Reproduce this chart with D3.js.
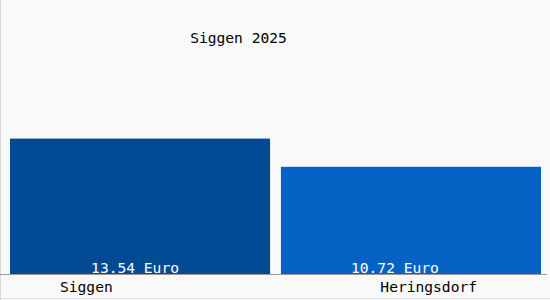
<!DOCTYPE html>
<html>
<head>
<meta charset="utf-8">
<script src="https://cdn.jsdelivr.net/npm/d3@7"></script>
<style>
  body { margin: 0; background: #ffffff; }
  text { font-family: "DejaVu Sans Mono", monospace; font-size: 14.6px; }
</style>
</head>
<body>
<div id="viz"></div>
<script>
var categories = ["Siggen", "Heringsdorf"];
var values = [13.54, 10.72];
var valueLabels = ["13.54 Euro", "10.72 Euro"];
var title = "Siggen 2025";
var barColors = ["#034a94", "#0561c3"];

var width = 550, height = 300;
var baseY = 274;

var svg = d3
  .select("#viz")
  .append("svg")
  .attr("width", width)
  .attr("height", height);

// background with faint frame
svg.append("rect")
  .attr("width", width)
  .attr("height", height)
  .attr("fill", "#f9f9f9");
svg.append("line")
  .attr("x1", 0.5).attr("x2", 0.5)
  .attr("y1", 0).attr("y2", height)
  .attr("stroke", "#d8d8d8");
svg.append("line")
  .attr("x1", 0).attr("x2", width)
  .attr("y1", height - 1.5).attr("y2", height - 1.5)
  .attr("stroke", "#e0e0e0");

var x = d3.scaleBand().domain(categories).range([10, 541]).paddingInner(0.04);
var y = d3.scaleLinear().domain([0, 27.4]).range([baseY, 0]);

svg.selectAll(".bar")
  .data(values)
  .enter()
  .append("rect")
  .attr("class", "bar")
  .attr("x", (d, i) => x(categories[i]))
  .attr("width", x.bandwidth())
  .attr("y", (d) => y(d))
  .attr("height", (d) => baseY - y(d))
  .style("fill", (d, i) => barColors[i]);

// baseline
svg.append("line")
  .attr("x1", 0).attr("x2", 547)
  .attr("y1", baseY + 0.5).attr("y2", baseY + 0.5)
  .attr("stroke", "#9a9a9a");

// value labels inside bars
svg.selectAll(".label")
  .data(values)
  .enter()
  .append("text")
  .attr("class", "label")
  .attr("x", (d, i) => x(categories[i]) + x.bandwidth() / 2 - (i === 0 ? 5 : 16))
  .attr("y", baseY - 1)
  .attr("text-anchor", "middle")
  .style("fill", "#ffffff")
  .text((d, i) => valueLabels[i]);

// category labels
svg.selectAll(".cat")
  .data(categories)
  .enter()
  .append("text")
  .attr("class", "cat")
  .attr("x", (d, i) => i === 0 ? x(d) + 50 : x(d) + x.bandwidth() - 64)
  .attr("y", 292)
  .attr("text-anchor", (d, i) => i === 0 ? "start" : "end")
  .style("fill", "#000000")
  .text((d) => d);

svg.append("text")
  .attr("x", 238.5)
  .attr("y", 43)
  .attr("text-anchor", "middle")
  .style("fill", "#000000")
  .text(title);
</script>
</body>
</html>
